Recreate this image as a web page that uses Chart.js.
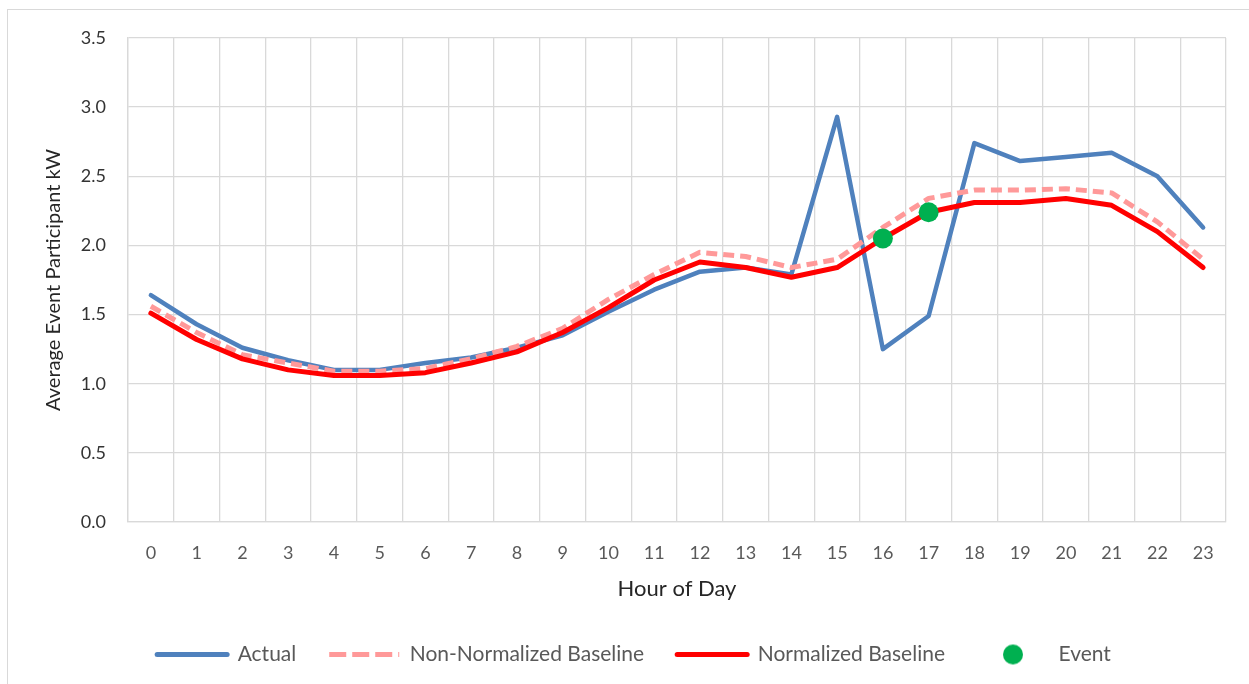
<!DOCTYPE html>
<html>
<head>
<meta charset="utf-8">
<script src="https://cdn.jsdelivr.net/npm/chart.js@4"></script>
<style>
  html, body { margin: 0; padding: 0; background: #fff; }
  #wrap { position: relative; width: 1249px; height: 684px; overflow: hidden; }
  #frame { position: absolute; left: 7px; top: 9px; width: 1260px; height: 700px; border: 1px solid #d9d9d9; box-sizing: border-box; }
  canvas { position: absolute; left: 0; top: 0; }
</style>
</head>
<body>
<div id="wrap">
  <div id="frame"></div>
  <canvas id="grafico" width="1249" height="684"></canvas>
</div>
<script>
const horas = ['0','1','2','3','4','5','6','7','8','9','10','11','12','13','14','15','16','17','18','19','20','21','22','23'];

const actual = [1.64, 1.43, 1.26, 1.17, 1.10, 1.10, 1.15, 1.19, 1.26, 1.35, 1.52, 1.68, 1.81, 1.84, 1.79, 2.93, 1.25, 1.49, 2.74, 2.61, 2.64, 2.67, 2.50, 2.13];
const naoNormalizado = [1.56, 1.37, 1.21, 1.15, 1.09, 1.09, 1.11, 1.18, 1.27, 1.40, 1.61, 1.79, 1.95, 1.92, 1.84, 1.90, 2.13, 2.34, 2.40, 2.40, 2.41, 2.38, 2.17, 1.90];
const normalizado = [1.51, 1.32, 1.18, 1.10, 1.06, 1.06, 1.08, 1.15, 1.23, 1.37, 1.55, 1.75, 1.88, 1.84, 1.77, 1.84, 2.05, 2.24, 2.31, 2.31, 2.34, 2.29, 2.10, 1.84];
const evento = [null, null, null, null, null, null, null, null, null, null, null, null, null, null, null, null, 2.05, 2.24, null, null, null, null, null, null];

const yTicks = [0, 0.5, 1.0, 1.5, 2.0, 2.5, 3.0, 3.5];

const AZUL = '#4f81bd';
const ROSA = '#ff9999';
const VERMELHO = '#ff0000';
const VERDE = '#00b050';
const FONTE = 'Lato';

// bolinha verde da legenda (circulo sem esticar)
const bolinha = document.createElement('canvas');
bolinha.width = 22; bolinha.height = 22;
const bctx = bolinha.getContext('2d');
bctx.fillStyle = VERDE;
bctx.beginPath();
bctx.arc(11, 11, 10, 0, Math.PI * 2);
bctx.fill();

const ctx = document.getElementById('grafico').getContext('2d');

new Chart(ctx, {
  type: 'line',
  data: {
    labels: horas,
    datasets: [
      {
        label: 'Actual',
        data: actual,
        borderColor: AZUL,
        borderWidth: 4.5,
        pointRadius: 0,
        borderJoinStyle: 'round',
        borderCapStyle: 'round',
        order: 4
      },
      {
        label: 'Non-Normalized Baseline',
        data: naoNormalizado,
        borderColor: ROSA,
        borderWidth: 5,
        borderDash: [11, 6],
        pointRadius: 0,
        borderJoinStyle: 'round',
        order: 3
      },
      {
        label: 'Normalized Baseline',
        data: normalizado,
        borderColor: VERMELHO,
        borderWidth: 5,
        pointRadius: 0,
        borderJoinStyle: 'round',
        borderCapStyle: 'round',
        order: 2
      },
      {
        label: 'Event',
        data: evento,
        showLine: false,
        pointRadius: 10,
        pointBackgroundColor: VERDE,
        pointBorderColor: VERDE,
        pointBorderWidth: 0,
        order: 1
      }
    ]
  },
  options: {
    responsive: false,
    animation: false,
    layout: { padding: { left: 42, top: 38, right: 23, bottom: 9 } },
    plugins: {
      tooltip: { enabled: false },
      legend: {
        position: 'bottom',
        labels: {
          usePointStyle: true,
          pointStyleWidth: 70,
          boxHeight: 18,
          padding: 33,
          color: '#595959',
          font: { family: FONTE, size: 21 },
          generateLabels: () => [
            { text: 'Actual', strokeStyle: AZUL, fillStyle: AZUL, lineWidth: 5, lineCap: 'round', lineDash: [], pointStyle: 'line', fontColor: '#595959', hidden: false, datasetIndex: 0 },
            { text: 'Non-Normalized Baseline', strokeStyle: ROSA, fillStyle: ROSA, lineWidth: 5, lineCap: 'butt', lineDash: [17, 6], pointStyle: 'line', fontColor: '#595959', hidden: false, datasetIndex: 1 },
            { text: 'Normalized Baseline', strokeStyle: VERMELHO, fillStyle: VERMELHO, lineWidth: 5, lineCap: 'round', lineDash: [], pointStyle: 'line', fontColor: '#595959', hidden: false, datasetIndex: 2 },
            { text: 'Event', strokeStyle: VERDE, fillStyle: VERDE, lineWidth: 0, lineDash: [], pointStyle: bolinha, fontColor: '#595959', hidden: false, datasetIndex: 3 }
          ]
        }
      }
    },
    scales: {
      x: {
        offset: true,
        grid: { offset: true, color: '#d9d9d9', lineWidth: 1.3, drawTicks: false },
        border: { color: '#d9d9d9', width: 1.3 },
        ticks: { color: '#595959', font: { family: FONTE, size: 18 }, padding: 20, maxRotation: 0, autoSkip: false },
        title: { display: true, text: 'Hour of Day', color: '#262626', font: { family: FONTE, size: 22 }, padding: { top: 0, bottom: 9 } },
        afterFit: (escala) => { escala.height = 89; }
      },
      y: {
        min: 0,
        max: 3.5,
        afterBuildTicks: (escala) => { escala.ticks = yTicks.map(v => ({ value: v })); },
        grid: { color: '#d9d9d9', lineWidth: 1.3, drawTicks: false },
        border: { color: '#d9d9d9', width: 1.3 },
        ticks: { color: '#333333', font: { family: FONTE, size: 18 }, padding: 22, callback: (v) => Number(v).toFixed(1) },
        title: { display: true, text: 'Average Event Participant kW', color: '#262626', font: { family: FONTE, size: 20 }, padding: { top: 0, bottom: 0 } },
        afterFit: (escala) => { escala.width = 86; }
      }
    }
  }
});
</script>
</body>
</html>
